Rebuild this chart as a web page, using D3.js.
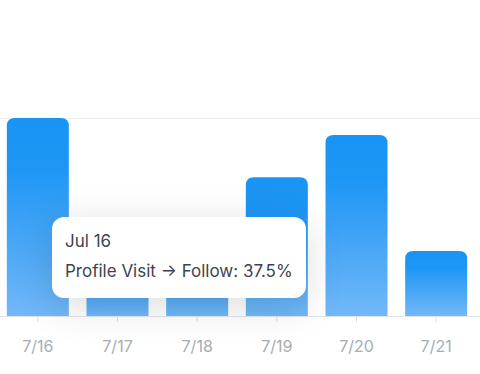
<!DOCTYPE html>
<html>
<head>
<meta charset="utf-8">
<script src="https://cdn.jsdelivr.net/npm/d3@7"></script>
<style>
  html, body { margin: 0; padding: 0; background: #fff; }
  #chart { position: relative; width: 480px; height: 374px; overflow: hidden; font-family: Inter, "Noto Sans", sans-serif; }
  .tip {
    position: absolute; box-sizing: border-box;
    background: #fff; border-radius: 12px;
    box-shadow: 0 8px 40px rgba(0,0,0,0.14);
    color: #3d4450; font-size: 17px; padding: 9px 13px;
    white-space: nowrap;
  }
  .tip div { line-height: 30px; }
</style>
</head>
<body>
<div id="chart"></div>
<script>
(function() {
  const width = 480;
  const height = 374;

  // data
  const days = ["7/16", "7/17", "7/18", "7/19", "7/20", "7/21"];
  const dayNames = ["Jul 16", "Jul 17", "Jul 18", "Jul 19", "Jul 20", "Jul 21"];
  const rates = [37.5, 12.5, 14.3, 26.3, 34.3, 12.3];
  const seriesName = "Profile Visit \u2192 Follow";
  const hovered = 0;

  const margin = { top: 118, right: 4, bottom: 58, left: -2 };

  const chart = d3.select("#chart");
  const svg = chart.append("svg").attr("width", width).attr("height", height);

  const x = d3.scaleBand()
    .domain(days)
    .range([margin.left, width - margin.right])
    .paddingInner(0.22)
    .paddingOuter(0.11);

  const y = d3.scaleLinear()
    .domain([0, 37.5])
    .range([height - margin.bottom, margin.top]);

  const defs = svg.append("defs");
  const grad = defs.append("linearGradient")
    .attr("id", "barGrad")
    .attr("x1", 0).attr("y1", 0).attr("x2", 0).attr("y2", 1);
  grad.append("stop").attr("offset", "0%").attr("stop-color", "#1a94f4");
  grad.append("stop").attr("offset", "25%").attr("stop-color", "#1d96f5");
  grad.append("stop").attr("offset", "100%").attr("stop-color", "#72b8f8");

  // top grid line
  svg.append("line")
    .attr("x1", 0).attr("x2", width)
    .attr("y1", y(37.5) + 0.5).attr("y2", y(37.5) + 0.5)
    .attr("stroke", "#ececec");

  function roundTop(x0, y0, w, h, r) {
    r = Math.min(r, h, w / 2);
    return `M${x0},${y0 + h}V${y0 + r}Q${x0},${y0} ${x0 + r},${y0}H${x0 + w - r}Q${x0 + w},${y0} ${x0 + w},${y0 + r}V${y0 + h}Z`;
  }

  const bw = 62;
  svg.append("g").selectAll("path")
    .data(rates)
    .join("path")
    .attr("d", (d, i) => {
      const cx = x(days[i]) + x.bandwidth() / 2;
      return roundTop(cx - bw / 2, y(d), bw, y(0) - y(d), 8);
    })
    .attr("fill", "url(#barGrad)");

  const axis = svg.append("g")
    .attr("transform", `translate(0,${y(0)})`)
    .call(d3.axisBottom(x).tickSize(6).tickSizeOuter(0).tickPadding(19));
  axis.select(".domain").remove();
  axis.append("line")
    .attr("x1", 0).attr("x2", width)
    .attr("y1", 0.5).attr("y2", 0.5)
    .attr("stroke", "#e2e4e8");
  axis.selectAll(".tick line").attr("stroke", "#dcdfe3");
  axis.selectAll(".tick text")
    .attr("fill", "#a7adb4")
    .attr("font-size", 16)
    .attr("font-family", "Inter, 'Noto Sans', sans-serif");

  // tooltip
  const tip = chart.append("div").attr("class", "tip")
    .style("left", "52px").style("top", "217px")
    .style("width", "254px").style("height", "81px");
  tip.append("div").text(dayNames[hovered]);
  tip.append("div").text(`${seriesName}: ${rates[hovered]}%`);
})();
</script>
</body>
</html>
